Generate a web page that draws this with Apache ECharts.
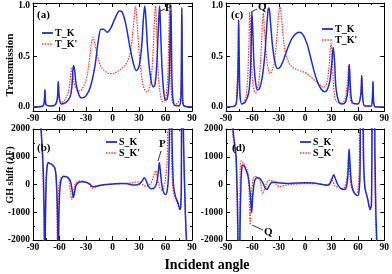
<!DOCTYPE html>
<html><head><meta charset="utf-8">
<script src="https://cdn.jsdelivr.net/npm/echarts@6/dist/echarts.min.js"></script>
<style>html,body{margin:0;padding:0;background:#fff}#c{width:392px;height:274px}</style>
</head><body><div id="c"></div>
<script>
// ---- data: [incident angle (deg), value] ----
const angleTicks = [-90, -60, -30, 0, 30, 60, 90];
const transTicks = [0, 0.5, 1];
const ghTicks = [-2000, -1000, 0, 1000, 2000];

// panel (a) transmission
const a_TK = [[-90,0],[-80,0.005],[-78,0.02],[-77,0.08],[-76.5,0.17],[-76,0.08],[-75,0.02],[-70,0.01],[-65,0.02],[-62.5,0.08],[-61.3,0.25],[-60.3,0.1],[-58,0.03],[-52,0.05],[-48,0.1],[-46,0.2],[-44.2,0.41],[-43,0.37],[-41,0.22],[-38,0.12],[-35,0.09],[-30,0.11],[-25,0.2],[-20,0.4],[-16,0.66],[-13,0.77],[-10,0.77],[-6,0.74],[-2,0.78],[3,0.88],[8,0.95],[11,0.94],[15,0.82],[20,0.58],[24,0.42],[27,0.36],[30,0.4],[33,0.6],[35,0.88],[36.5,1.0],[38,0.85],[40,0.55],[43,0.3],[46,0.2],[48,0.22],[50,0.4],[52,0.8],[53.3,1.0],[54.5,0.75],[56,0.4],[58,0.15],[60,0.07],[62,0.08],[64,0.25],[65.5,0.8],[66.2,1.0],[66.8,0.6],[67.8,0.15],[70,0.02],[75,0.01],[77.5,0.1],[78.5,0.98],[79.4,0.1],[81,0.01],[90,0]];
const a_TKp = [[-90,0],[-78,0.02],[-77,0.08],[-76.5,0.17],[-76,0.08],[-75,0.02],[-70,0.01],[-65,0.02],[-62.5,0.08],[-61.5,0.25],[-60.5,0.1],[-58,0.04],[-54,0.07],[-50,0.15],[-47.5,0.3],[-46.3,0.38],[-45,0.33],[-43,0.22],[-40,0.17],[-37,0.16],[-33,0.2],[-29,0.3],[-26,0.48],[-23.5,0.65],[-22,0.69],[-20,0.63],[-17,0.5],[-13,0.4],[-8,0.35],[-3,0.33],[0,0.33],[5,0.35],[10,0.38],[15,0.42],[19,0.5],[22,0.65],[24.5,0.88],[26,1.0],[27.5,0.88],[30,0.55],[33,0.3],[36,0.18],[39,0.15],[42,0.2],[45,0.4],[47.5,0.85],[48.8,1.0],[50,0.75],[52,0.3],[55,0.08],[57,0.05],[60,0.08],[62.5,0.3],[64,0.8],[64.8,1.0],[65.5,0.6],[67,0.1],[70,0.02],[77,0.1],[78.3,0.98],[79.2,0.1],[81,0.01],[90,0]];

// panel (c) transmission
const c_TK = [[-90,0],[-80,0.01],[-77.5,0.1],[-76,0.5],[-75.5,0.86],[-75,0.5],[-74,0.12],[-72,0.03],[-68,0.05],[-64,0.15],[-62,0.4],[-61,0.8],[-60.5,0.94],[-59.5,0.75],[-58,0.4],[-56,0.22],[-54,0.17],[-52,0.18],[-49,0.28],[-46,0.5],[-44,0.75],[-42,0.97],[-41,0.98],[-39.5,0.85],[-37,0.6],[-34,0.43],[-31,0.38],[-28,0.4],[-24,0.48],[-20,0.58],[-15,0.68],[-10,0.73],[-6,0.74],[-2,0.71],[2,0.63],[6,0.5],[10,0.36],[14,0.25],[18,0.18],[22,0.15],[25,0.17],[28,0.25],[30.5,0.45],[32,0.59],[33.5,0.45],[35,0.2],[38,0.06],[42,0.03],[46,0.05],[49,0.2],[50.3,0.42],[51.5,0.2],[54,0.04],[60,0.03],[63.3,0.12],[64.5,0.31],[65.5,0.1],[68,0.01],[75,0.01],[76.5,0.08],[77.2,0.25],[78,0.05],[80,0],[90,0]];
const c_TKp = [[-90,0],[-80,0.01],[-78,0.1],[-76.5,0.5],[-76,0.86],[-75.5,0.5],[-74.5,0.12],[-72,0.03],[-68,0.08],[-66,0.2],[-64,0.6],[-63,0.94],[-62,0.75],[-60.5,0.35],[-58.5,0.18],[-56.5,0.14],[-54.5,0.17],[-52,0.3],[-50,0.55],[-48.5,0.85],[-47.5,0.93],[-46.5,0.8],[-44,0.5],[-42,0.38],[-40,0.33],[-38,0.35],[-35,0.45],[-32,0.7],[-30,0.93],[-28.5,0.99],[-27,0.9],[-25,0.7],[-22,0.52],[-18,0.43],[-12,0.38],[-6,0.36],[0,0.34],[5,0.31],[10,0.27],[15,0.23],[20,0.2],[24,0.22],[27,0.38],[29.5,0.63],[31,0.45],[33,0.15],[36,0.05],[42,0.04],[46,0.1],[48.5,0.3],[49.5,0.42],[50.5,0.2],[53,0.04],[60,0.03],[63,0.12],[64.2,0.31],[65.2,0.1],[68,0.01],[75,0.01],[76.3,0.08],[77,0.25],[77.8,0.05],[80,0],[90,0]];

// panel (b) GH shift
const b_SK = [[-90,4000],[-85,3500],[-82,2500],[-79,1000],[-78,0],[-77.2,-1500],[-76.8,-4000],[-76.5,-4000],[-75.8,-1000],[-75,200],[-74,650],[-73,780],[-71,760],[-68,700],[-65.5,600],[-64,350],[-63,-300],[-62,-1500],[-61.3,-4000],[-60.8,-1500],[-60,-400],[-59,0],[-57.5,230],[-55,290],[-52,280],[-49,200],[-47,50],[-45.5,-250],[-44.3,-460],[-43,-300],[-41.5,-50],[-39,60],[-35,100],[-30,80],[-26,20],[-22,-80],[-18,-60],[-10,-10],[0,20],[8,40],[13,40],[18,20],[24,-20],[28,-10],[31,30],[34,150],[36,240],[38,150],[41,-80],[44,-150],[47,-130],[50,50],[52,500],[53,780],[54,550],[56,-50],[58,-300],[60,-360],[62,-200],[63.5,400],[64.5,2000],[65,4000],[66.5,4000],[67.5,1500],[69,0],[71,-400],[74,-650],[76.5,-900],[77.3,-800],[78,0],[78.3,4000],[79.5,4000],[80.5,1500],[82,-500],[83,-1500],[84,-2200],[86,-4000],[90,-4000]];
const b_SKp = [[-90,4000],[-85,3500],[-82,2500],[-79.5,1000],[-78.5,0],[-77.5,-1500],[-77,-4000],[-76.5,-4000],[-75.8,-1000],[-75,250],[-73.5,700],[-72.5,800],[-70,760],[-67,680],[-65,550],[-64,250],[-63,-500],[-62.3,-4000],[-61.8,-1500],[-61,-200],[-59.5,150],[-57,290],[-54,300],[-51,250],[-49,100],[-47.5,-250],[-46,-550],[-44.5,-300],[-42.5,0],[-40,100],[-35,130],[-30,80],[-26,0],[-23,-130],[-19,-100],[-12,-30],[-5,0],[5,20],[12,30],[20,50],[25,80],[28,100],[31,60],[35,-20],[38,-60],[42,0],[45,150],[47,350],[49,500],[50.5,300],[52,50],[54,-150],[56,-200],[58,-100],[60,200],[62,1000],[63,4000],[65.5,4000],[66.5,1500],[68,0],[70,-400],[73,-650],[76,-880],[77,-800],[77.8,0],[78.1,4000],[79.3,4000],[80.3,1500],[82,-500],[83,-1500],[84,-2200],[86,-4000],[90,-4000]];

// panel (d) GH shift
const d_SK = [[-90,4000],[-84,4000],[-82,2000],[-80,1400],[-78.5,1000],[-77.5,0],[-76.5,-1500],[-76,-4000],[-74.5,-4000],[-74,-1500],[-73,0],[-72,600],[-71,700],[-69,650],[-67,500],[-65,300],[-63.5,0],[-62,-500],[-60.8,-1000],[-59.5,-400],[-58,50],[-56.5,200],[-54,240],[-51,200],[-48,50],[-45.5,-120],[-43.5,-180],[-41,-50],[-38,70],[-34,80],[-30,60],[-20,40],[-10,50],[0,60],[10,50],[15,30],[20,0],[25,-30],[28,20],[30.5,200],[32.5,350],[34,250],[37,0],[41,-150],[45,-180],[47.5,0],[49,500],[50,1280],[51,800],[52.5,100],[55,-250],[58,-380],[60,-400],[61.5,-200],[62.5,500],[63.3,4000],[65.5,4000],[66.5,1000],[68,-100],[71,-500],[74,-900],[75.5,-700],[76.8,4000],[78.5,4000],[79.5,1000],[80.5,-1000],[81.5,-2000],[83,-4000],[90,-4000]];
const d_SKp = [[-90,4000],[-85,4000],[-83,2000],[-80.5,1400],[-79,1000],[-78,0],[-77,-1500],[-76.5,-4000],[-75,-4000],[-74.5,-1500],[-74,0],[-73.5,800],[-72.5,850],[-70,750],[-67,600],[-65,400],[-64,0],[-63.2,-800],[-62.5,-1450],[-61.5,-600],[-60,0],[-58.5,250],[-57,290],[-54,260],[-51,100],[-49.5,-200],[-48.3,-340],[-47,-250],[-44,50],[-41,150],[-37,120],[-33,20],[-29,-80],[-25,-40],[-15,0],[0,30],[10,30],[20,0],[25,-20],[28,50],[30,200],[31,150],[34,-50],[38,-100],[43,-150],[46,0],[48,400],[49.5,1100],[50.5,600],[52,0],[55,-250],[58,-350],[60,-200],[61.5,500],[62.5,4000],[65,4000],[66,1000],[68,-100],[71,-500],[74,-880],[75.3,-700],[76.3,4000],[78,4000],[79,1000],[80,-1000],[81,-2000],[82.5,-4000],[90,-4000]];

// ---- styling ----
const FONT = '"Liberation Serif","Times New Roman",serif';
const BLUE = '#1c2fc4';
const RED = '#ff3030';
const grids = [
  {left: 33, top: 3, width: 159, height: 108},   // (a)
  {left: 226, top: 3, width: 161, height: 108},  // (c)
  {left: 33, top: 129, width: 159, height: 111}, // (b)
  {left: 226, top: 129, width: 161, height: 111} // (d)
];
const lab = {color: '#000', fontFamily: FONT, fontWeight: 'bold', fontSize: 9.5, margin: 3};
function xAx(g, pos) {
  const bottom = pos === 'bottom';
  return {type: 'value', gridIndex: g, position: pos, min: -90, max: 90, interval: 30,
    axisLine: {show: true, onZero: false, lineStyle: {color: '#000', width: 1}},
    axisTick: {show: true, inside: true, length: 4, lineStyle: {color: '#000'}},
    minorTick: {show: true, splitNumber: 2, length: 2, lineStyle: {color: '#000'}},
    splitLine: {show: false},
    axisLabel: Object.assign({show: bottom, showMinLabel: true, showMaxLabel: true, formatter: v => String(v)}, lab)};
}
function yAx(g, pos, trans) {
  const left = pos === 'left';
  const base = {type: 'value', gridIndex: g, position: pos,
    axisLine: {show: true, onZero: false, lineStyle: {color: '#000', width: 1}},
    splitLine: {show: false}};
  if (trans) {
    return Object.assign(base, {min: -0.04, max: 1.03,
      axisTick: {show: true, inside: true, length: 4, customValues: transTicks, lineStyle: {color: '#000'}},
      axisLabel: Object.assign({show: left, customValues: transTicks, formatter: v => v.toFixed(1)}, lab)});
  }
  return Object.assign(base, {min: -2000, max: 2000, interval: 1000,
    axisTick: {show: true, inside: true, length: 4, lineStyle: {color: '#000'}},
    minorTick: {show: true, splitNumber: 2, length: 2, lineStyle: {color: '#000'}},
    axisLabel: Object.assign({show: left, formatter: v => String(v)}, lab)});
}
const xAxis = [], yAxis = [];
for (let g = 0; g < 4; g++) {
  xAxis.push(xAx(g, 'bottom'));
  yAxis.push(yAx(g, 'left', g < 2));
}
for (let g = 0; g < 4; g++) {
  xAxis.push(xAx(g, 'top'));
  yAxis.push(yAx(g, 'right', g < 2));
}
function line(name, data, g, blue) {
  return {type: 'line', name, data, xAxisIndex: g, yAxisIndex: g, showSymbol: false,
    smooth: 0.35, clip: true, animation: false, z: blue ? 3 : 2,
    lineStyle: blue ? {color: BLUE, width: 1.5} : {color: RED, width: 1.2, type: [1.5, 1.2]}};
}
const series = [
  line('T_K', a_TK, 0, true), line("T_K'", a_TKp, 0, false),
  line('T_K', c_TK, 1, true), line("T_K'", c_TKp, 1, false),
  line('S_K', b_SK, 2, true), line("S_K'", b_SKp, 2, false),
  line('S_K', d_SK, 3, true), line("S_K'", d_SKp, 3, false)
];

function txt(t, x, y, size, align, extra) {
  return Object.assign({type: 'text', x, y, z: 10, style: {text: t, fill: '#000',
    font: 'bold ' + size + 'px ' + FONT, align: align || 'left', verticalAlign: 'middle'}}, extra || {});
}
function seg(x1, y1, x2, y2, blue, dash) {
  return {type: 'line', z: 10, shape: {x1, y1, x2, y2},
    style: {stroke: blue === undefined ? '#000' : (blue ? BLUE : RED), lineWidth: blue === undefined ? 0.8 : (blue ? 1.8 : 1.3), lineDash: dash || null}};
}
function legend(x, y, n1, n2) {
  return [seg(x, y, x + 11, y, true), txt(n1, x + 13, y, 10),
          seg(x, y + 11, x + 11, y + 11, false, [1.5, 1.2]), txt(n2, x + 13, y + 11, 10)];
}
const graphic = [].concat(
  [txt('(a)', 37, 15, 11), txt('(c)', 231, 15, 11), txt('(b)', 37, 148, 11), txt('(d)', 232, 148, 11)],
  legend(42, 33, 'T_K', "T_K'"),
  legend(322, 29, 'T_K', "T_K'"),
  legend(106, 142, 'S_K', "S_K'"),
  legend(300, 142, 'S_K', "S_K'"),
  [txt('P', 165, 8, 11), seg(165, 9, 160, 11),
   txt('Q', 258, 7, 11), seg(257, 9, 251, 12),
   txt('P', 159, 144, 11), seg(161, 151, 158, 161),
   txt('Q', 264, 232, 11), seg(263, 230, 252, 225)],
  [txt('Transmission', 10, 65, 11, 'center', {rotation: Math.PI / 2}),
   txt('GH shift (\u03bbF)', 10, 175, 10, 'center', {rotation: Math.PI / 2}),
   txt('Incident angle', 207, 265, 14, 'center')]
);

const chart = echarts.init(document.getElementById('c'), null, {renderer: 'canvas'});
chart.setOption({animation: false, backgroundColor: '#fff', grid: grids, xAxis, yAxis, series, graphic});
</script></body></html>
